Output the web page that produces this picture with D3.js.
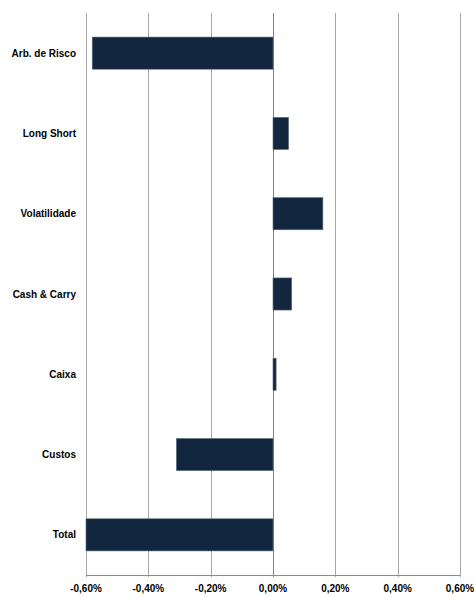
<!DOCTYPE html>
<html>
<head>
<meta charset="utf-8">
<script src="https://cdn.jsdelivr.net/npm/d3@7"></script>
<style>
  body { margin: 0; background: #fff; }
  text { font-family: "Liberation Sans", Arial, sans-serif; font-weight: bold; font-size: 10px; fill: #000; }
</style>
</head>
<body>
<svg id="canvas" width="474" height="598"></svg>
<script>
let categories = ['Arb. de Risco', 'Long Short', 'Volatilidade', 'Cash & Carry', 'Caixa', 'Custos', 'Total']
let values = [-0.58, 0.05, 0.16, 0.06, 0.01, -0.31, -0.60]
let tickValues = [-0.6, -0.4, -0.2, 0, 0.2, 0.4, 0.6]

let margin = { top: 13, left: 86, right: 14, bottom: 23 }
let width = 474
let height = 598

let canvas = d3.select('#canvas')

let xScale = d3.scaleLinear()
    .domain([-0.6, 0.6])
    .range([margin.left, width - margin.right])

let yScale = d3.scaleBand()
    .domain(categories)
    .range([margin.top, height - margin.bottom])
    .paddingInner(0.6)
    .paddingOuter(0.3)

let fmt = (v) => v.toFixed(2).replace('.', ',') + '%'

// gridlines
canvas.selectAll('.grid')
    .data(tickValues)
    .enter()
    .append('line')
    .attr('class', 'grid')
    .attr('x1', (d) => Math.round(xScale(d)) + 0.5)
    .attr('x2', (d) => Math.round(xScale(d)) + 0.5)
    .attr('y1', margin.top)
    .attr('y2', height - margin.bottom + 2)
    .attr('stroke', (d) => d === 0 ? '#7f7f7f' : '#a6a6a6')
    .attr('stroke-width', 1)

// bottom axis line
canvas.append('line')
    .attr('x1', xScale(-0.6))
    .attr('x2', xScale(0.6))
    .attr('y1', height - margin.bottom + 0.5)
    .attr('y2', height - margin.bottom + 0.5)
    .attr('stroke', '#8c8c8c')

// bars
canvas.selectAll('.bar')
    .data(values)
    .enter()
    .append('rect')
    .attr('class', 'bar')
    .attr('x', (d) => xScale(Math.min(0, d)))
    .attr('y', (d, i) => yScale(categories[i]))
    .attr('width', (d) => Math.abs(xScale(d) - xScale(0)))
    .attr('height', yScale.bandwidth())
    .attr('fill', '#13263f')
    .attr('stroke', '#5d6b7c')
    .attr('stroke-width', 0.6)

// category labels
canvas.selectAll('.cat')
    .data(categories)
    .enter()
    .append('text')
    .attr('class', 'cat')
    .attr('x', 76)
    .attr('y', (d) => yScale(d) + yScale.bandwidth() / 2)
    .attr('dy', '0.35em')
    .attr('text-anchor', 'end')
    .text((d) => d)

// tick labels
canvas.selectAll('.tick')
    .data(tickValues)
    .enter()
    .append('text')
    .attr('class', 'tick')
    .attr('x', (d) => xScale(d))
    .attr('y', height - margin.bottom + 17)
    .attr('text-anchor', 'middle')
    .text((d) => fmt(d === 0 ? 0 : d))
</script>
</body>
</html>
